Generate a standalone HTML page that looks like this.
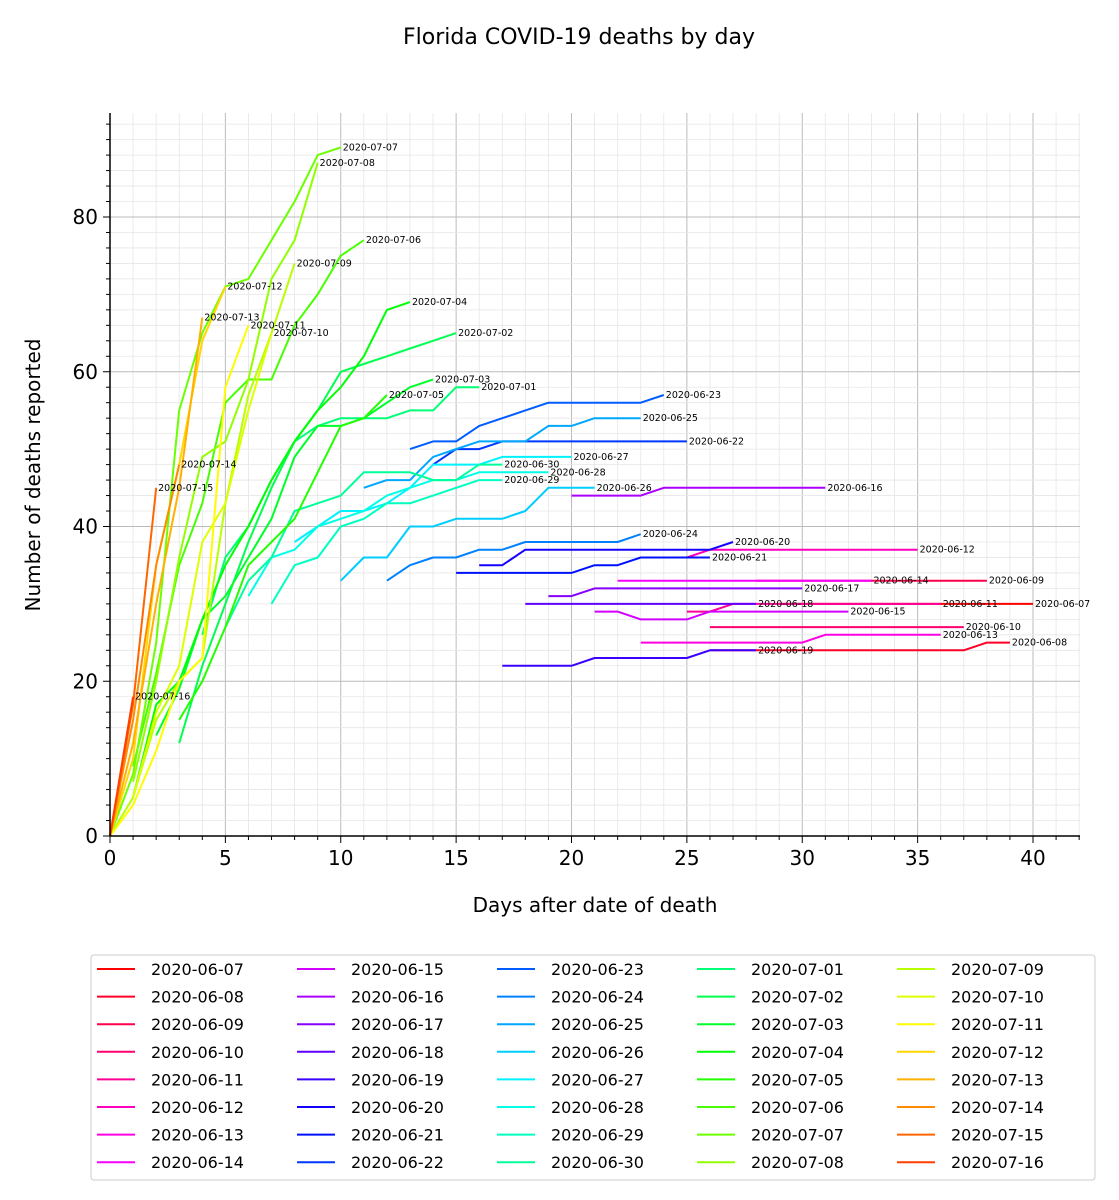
<!DOCTYPE html>
<html><head><meta charset="utf-8">
<style>
html,body{margin:0;padding:0;background:#fff;}
svg{display:block;font-family:"DejaVu Sans","Liberation Sans",sans-serif;}
</style></head>
<body>
<svg id="chart" width="1119" height="1200" viewBox="0 0 1119 1200" xmlns="http://www.w3.org/2000/svg">
<text x="579" y="44" font-size="22" text-anchor="middle">Florida COVID-19 deaths by day</text>
<g id="grid"></g>
<g id="series"></g>
<g id="axes"></g>
<text x="595" y="912" font-size="20" text-anchor="middle">Days after date of death</text>
<text transform="translate(40,475) rotate(-90)" font-size="20" text-anchor="middle">Number of deaths reported</text>
<rect x="91" y="955" width="1004" height="225" fill="#fff" stroke="#ccc" rx="3"/>
<g id="legend"></g>
</svg>
<script>
const dates = ["2020-06-07","2020-06-08","2020-06-09","2020-06-10","2020-06-11","2020-06-12","2020-06-13","2020-06-14","2020-06-15","2020-06-16","2020-06-17","2020-06-18","2020-06-19","2020-06-20","2020-06-21","2020-06-22","2020-06-23","2020-06-24","2020-06-25","2020-06-26","2020-06-27","2020-06-28","2020-06-29","2020-06-30","2020-07-01","2020-07-02","2020-07-03","2020-07-04","2020-07-05","2020-07-06","2020-07-07","2020-07-08","2020-07-09","2020-07-10","2020-07-11","2020-07-12","2020-07-13","2020-07-14","2020-07-15","2020-07-16"];
const startDays = [29,26,28,26,25,25,23,22,21,20,19,18,17,16,15,14,13,12,11,10,8,6,7,5,4,3,2,1,3,1,0,1,0,1,0,0,0,0,0,0];
const deaths = [
[30,30,30,30,30,30,30,30,30,30,30,30],
[24,24,24,24,24,24,24,24,24,24,24,24,25,25],
[33,33,33,33,33,33,33,33,33,33,33],
[27,27,27,27,27,27,27,27,27,27,27,27],
[29,29,30,30,30,30,30,30,30,30,30,30],
[36,37,37,37,37,37,37,37,37,37,37],
[25,25,25,25,25,25,25,25,26,26,26,26,26,26],
[33,33,33,33,33,33,33,33,33,33,33,33],
[29,29,28,28,28,29,29,29,29,29,29,29],
[44,44,44,44,45,45,45,45,45,45,45,45],
[31,31,32,32,32,32,32,32,32,32,32,32],
[30,30,30,30,30,30,30,30,30,30,30],
[22,22,22,22,23,23,23,23,23,24,24,24],
[35,35,37,37,37,37,37,37,37,37,37,38],
[34,34,34,34,34,34,35,35,36,36,36,36],
[48,50,50,51,51,51,51,51,51,51,51,51],
[50,51,51,53,54,55,56,56,56,56,56,57],
[33,35,36,36,37,37,38,38,38,38,38,39],
[45,46,46,49,50,51,51,51,53,53,54,54,54],
[33,36,36,40,40,41,41,41,42,45,45,45],
[38,40,42,42,43,45,48,48,48,49,49,49,49],
[31,36,37,40,41,42,44,45,46,46,47,47,47,47],
[30,35,36,40,41,43,43,44,45,46,46],
[27,33,36,42,43,44,47,47,47,46,46,48,48],
[26,36,40,46,51,53,54,54,54,55,55,58,58],
[12,22,30,38,45,51,55,60,61,62,63,64,65],
[13,19,28,31,36,41,49,53,53,54,56,58,59],
[5,17,20,28,35,40,46,51,55,58,62,68,69],
[15,20,27,35,38,41,47,53,54,57],
[9,21,35,43,56,59,59,66,70,75,77],
[0,8,25,55,65,71,72,77,82,88,89],
[7,20,36,49,51,59,72,77,87],
[0,5,15,20,23,43,57,65,74],
[5,16,22,38,43,55,65],
[0,4,11,20,23,58,66],
[0,10,35,48,64,71],
[0,12,30,45,67],
[0,15,35,48],
[0,17,45],
[0,18]
];
const xTicks = [0,5,10,15,20,25,30,35,40];
const yTicks = [0,20,40,60,80];

const X0=110, XR=1080, Y0=836, YT=113;
const PX=(1033-110)/40, PY=(836-217)/80;
function sx(d){return X0+d*PX;}
function sy(v){return Y0-v*PY;}
function col(i){return 'hsl('+((360-i*8.85)%360)+',100%,50%)';}
const NS="http://www.w3.org/2000/svg";
function mk(tag,attrs,parent){const e=document.createElementNS(NS,tag);for(const k in attrs)e.setAttribute(k,attrs[k]);parent.appendChild(e);return e;}

const grid=document.getElementById('grid');
for(let d=0; d<=42; d++){
  const major = d%5===0;
  const ln=mk('line',{x1:sx(d),x2:sx(d),y1:YT,y2:Y0,stroke:major?'#bbb':'#e6e6e6','stroke-width':major?1:0.8},grid);
  
  
}
for(let v=0; v<=92; v+=2){
  const major = v%20===0;
  const ln=mk('line',{x1:X0,x2:XR,y1:sy(v),y2:sy(v),stroke:major?'#bbb':'#e6e6e6','stroke-width':major?1:0.8},grid);
  
  
}

const ser=document.getElementById('series');
deaths.forEach((vals,i)=>{
  const s=startDays[i];
  const pts=vals.map((v,j)=>sx(s+j).toFixed(1)+','+sy(v).toFixed(1)).join(' ');
  const pl=mk('polyline',{points:pts,fill:'none',stroke:col(i),'stroke-width':2,'stroke-linejoin':'round'},ser);
  
  
});
deaths.forEach((vals,i)=>{
  const s=startDays[i], last=vals.length-1;
  const t=mk('text',{x:sx(s+last)+2,y:sy(vals[last])+3,'font-size':9.5,fill:'#000'},ser);
  t.textContent=dates[i];
  
  
});

const ax=document.getElementById('axes');
mk('line',{x1:X0,x2:X0,y1:YT,y2:Y0,stroke:'#000','stroke-width':1.5},ax);
mk('line',{x1:X0,x2:XR,y1:Y0,y2:Y0,stroke:'#000','stroke-width':1.5},ax);
for(let d=0; d<=42; d++){
  mk('line',{x1:sx(d),x2:sx(d),y1:Y0,y2:Y0+(d%5===0?7:4),stroke:'#000','stroke-width':1},ax);
}
for(let v=0; v<=92; v+=2){
  mk('line',{x1:X0,x2:X0-(v%20===0?7:4),y1:sy(v),y2:sy(v),stroke:'#000','stroke-width':1},ax);
}
xTicks.forEach(d=>{
  const t=mk('text',{x:sx(d),y:Y0+29,'font-size':20,'text-anchor':'middle'},ax);
  t.textContent=d;
  
  
});
yTicks.forEach(v=>{
  const t=mk('text',{x:X0-12,y:sy(v)+7,'font-size':20,'text-anchor':'end'},ax);
  t.textContent=v;
  
  
});

const leg=document.getElementById('legend');
dates.forEach((d,i)=>{
  const c=Math.floor(i/8), r=i%8;
  const x=97+c*200, y=969+r*27.6;
  const g=mk('g',{},leg);
  
  
  mk('line',{x1:x,x2:x+38,y1:y,y2:y,stroke:col(i),'stroke-width':2},g);
  const t=mk('text',{x:x+54,y:y+6,'font-size':16},g);
  t.textContent=d;
});
</script>
</body></html>
